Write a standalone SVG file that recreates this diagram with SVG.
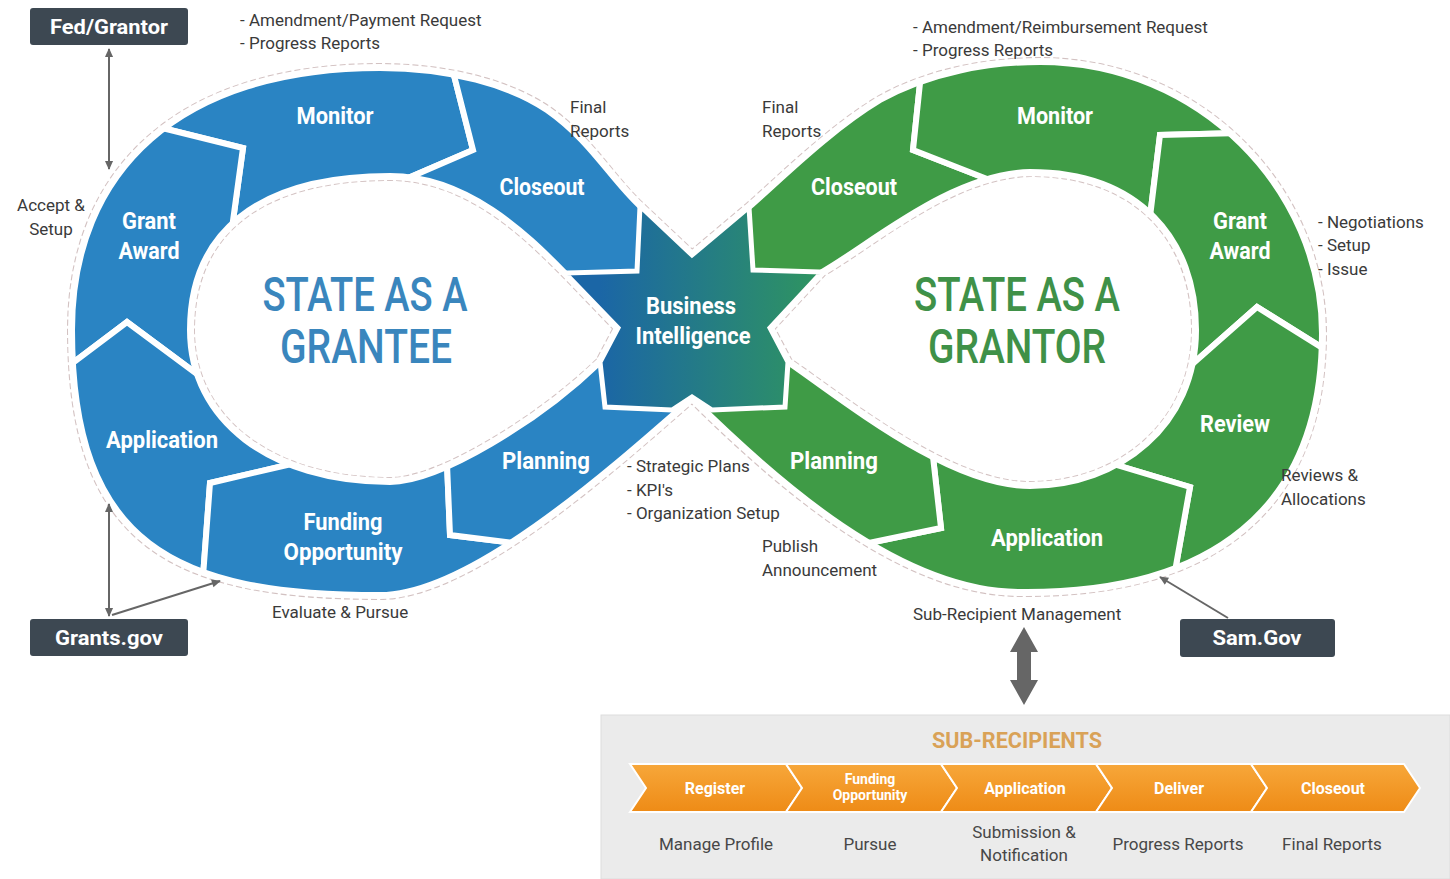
<svg xmlns="http://www.w3.org/2000/svg" width="1450" height="879" viewBox="0 0 1450 879">
<defs>
<style>
.lbl{font-family:Roboto,"Liberation Sans",Arial,sans-serif;font-weight:700;font-size:23px;fill:#ffffff;text-anchor:middle}
.ttl{font-family:Roboto,"Liberation Sans",Arial,sans-serif;font-weight:500;font-size:48px;text-anchor:middle}
.ann{font-family:Roboto,"Liberation Sans",Arial,sans-serif;font-size:17px;fill:#3a3a3a}
.annm{font-family:Roboto,"Liberation Sans",Arial,sans-serif;font-size:17px;fill:#3a3a3a;text-anchor:middle}
.boxr{fill:#3d4852}
.boxt{font-family:Roboto,"Liberation Sans",Arial,sans-serif;font-weight:700;font-size:21px;fill:#ffffff;text-anchor:middle}
.segb{fill:#2a84c3;stroke:#ffffff;stroke-width:6}
.segg{fill:#3f9b46;stroke:#ffffff;stroke-width:6}
.outl{fill:none;stroke:#d3c2c2;stroke-width:10;stroke-dasharray:6 3}
.outw{fill:none;stroke:#ffffff;stroke-width:8;stroke-linejoin:round}
.inset{fill:none;stroke:#ffffff;stroke-width:6;stroke-linejoin:round}
.conn{fill:none;stroke:#666666;stroke-width:2}
.chev{fill:url(#og);stroke:#ffffff;stroke-width:2}
.chevt{font-family:Roboto,"Liberation Sans",Arial,sans-serif;font-weight:700;font-size:16px;fill:#ffffff;text-anchor:middle}
.chevs{font-family:Roboto,"Liberation Sans",Arial,sans-serif;font-weight:700;font-size:14px;fill:#ffffff;text-anchor:middle}
.sub{font-family:Roboto,"Liberation Sans",Arial,sans-serif;font-size:17px;fill:#474747;text-anchor:middle}
</style>
<linearGradient id="bi" x1="600" y1="0" x2="822" y2="0" gradientUnits="userSpaceOnUse">
<stop offset="0" stop-color="#1b66a6"/><stop offset="1" stop-color="#2f955f"/>
</linearGradient>
<linearGradient id="og" x1="0" y1="0" x2="0" y2="1">
<stop offset="0" stop-color="#f7a73a"/><stop offset="1" stop-color="#ee8b16"/>
</linearGradient>
<clipPath id="clipL"><path clip-rule="evenodd" d="M692,255 L640,206 C610,178 590,140 547,110 C510,85 450,68 380,68 C180,68 72,170 72,330 C72,545 175,595 380,595 C470,595 610,470 692,398 Z M618,328 L565,273 C530,238 470,176 390,176 C255,176 190,235 190,330 C190,420 270,482 390,482 C440,482 540,420 600,362 Z"/></clipPath>
<clipPath id="clipR"><path clip-rule="evenodd" d="M692,255 L749,207 C780,180 830,130 880,100 C930,72 990,62 1040,62 C1200,62 1322,190 1322,333 C1322,510 1210,594 1020,592 C900,592 775,480 692,398 Z M770,328 L822,272 C870,245 950,174 1030,172 C1140,172 1196,240 1196,330 C1196,425 1120,486 1030,486 C950,486 850,405 788,362 Z"/></clipPath>
<marker id="ah" viewBox="0 0 10 10" refX="9" refY="5" markerWidth="10" markerHeight="9" markerUnits="userSpaceOnUse" orient="auto-start-reverse">
<path d="M0,0.5 L10,5 L0,9.5 Z" fill="#666666"/>
</marker>
</defs>

<rect width="1450" height="879" fill="#ffffff"/>

<!-- ring outlines -->
<g id="ring-outlines">
<path class="outl" d="M692,255 L640,206 C610,178 590,140 547,110 C510,85 450,68 380,68 C180,68 72,170 72,330 C72,545 175,595 380,595 C470,595 610,470 692,398 Z M618,328 L565,273 C530,238 470,176 390,176 C255,176 190,235 190,330 C190,420 270,482 390,482 C440,482 540,420 600,362 Z"/>
<path class="outl" d="M692,255 L749,207 C780,180 830,130 880,100 C930,72 990,62 1040,62 C1200,62 1322,190 1322,333 C1322,510 1210,594 1020,592 C900,592 775,480 692,398 Z M770,328 L822,272 C870,245 950,174 1030,172 C1140,172 1196,240 1196,330 C1196,425 1120,486 1030,486 C950,486 850,405 788,362 Z"/>
<path class="outw" d="M692,255 L640,206 C610,178 590,140 547,110 C510,85 450,68 380,68 C180,68 72,170 72,330 C72,545 175,595 380,595 C470,595 610,470 692,398 Z M618,328 L565,273 C530,238 470,176 390,176 C255,176 190,235 190,330 C190,420 270,482 390,482 C440,482 540,420 600,362 Z"/>
<path class="outw" d="M692,255 L749,207 C780,180 830,130 880,100 C930,72 990,62 1040,62 C1200,62 1322,190 1322,333 C1322,510 1210,594 1020,592 C900,592 775,480 692,398 Z M770,328 L822,272 C870,245 950,174 1030,172 C1140,172 1196,240 1196,330 C1196,425 1120,486 1030,486 C950,486 850,405 788,362 Z"/>
</g>

<!-- grantee (blue) segments -->
<g id="grantee-monitor">
<polygon class="segb" clip-path="url(#clipL)" points="390,330 232,228 243,148 130,120 300,20 445,40 473,150 385,188"/>
<text class="lbl" x="335" y="124" textLength="77" lengthAdjust="spacingAndGlyphs">Monitor</text>
</g>
<g id="grantee-closeout">
<polygon class="segb" clip-path="url(#clipL)" points="390,330 385,188 473,150 445,40 720,0 720,330"/>
<text class="lbl" x="542" y="195" textLength="85" lengthAdjust="spacingAndGlyphs">Closeout</text>
</g>
<g id="grantee-grant-award">
<polygon class="segb" clip-path="url(#clipL)" points="390,330 205,380 127,322 50,380 0,380 0,100 130,120 243,148 232,228"/>
<text class="lbl" x="149" y="229" textLength="54" lengthAdjust="spacingAndGlyphs">Grant</text>
<text class="lbl" x="149" y="259" textLength="61" lengthAdjust="spacingAndGlyphs">Award</text>
</g>
<g id="grantee-application">
<polygon class="segb" clip-path="url(#clipL)" points="390,330 300,462 210,483 202,590 202,640 0,640 0,380 50,380 127,322 205,380"/>
<text class="lbl" x="162" y="448" textLength="112" lengthAdjust="spacingAndGlyphs">Application</text>
</g>
<g id="grantee-funding-opportunity">
<polygon class="segb" clip-path="url(#clipL)" points="390,330 446,440 450,535 545,547 560,640 202,640 202,590 210,483 300,462"/>
<text class="lbl" x="343" y="530" textLength="79" lengthAdjust="spacingAndGlyphs">Funding</text>
<text class="lbl" x="343" y="560" textLength="119" lengthAdjust="spacingAndGlyphs">Opportunity</text>
</g>
<g id="grantee-planning">
<polygon class="segb" clip-path="url(#clipL)" points="390,330 720,330 720,700 560,640 545,547 450,535 446,440"/>
<text class="lbl" x="546" y="469" textLength="88" lengthAdjust="spacingAndGlyphs">Planning</text>
</g>

<!-- grantor (green) segments -->
<g id="grantor-closeout">
<polygon class="segg" clip-path="url(#clipR)" points="1010,330 670,330 670,0 924,45 913,150 1000,184"/>
<text class="lbl" x="854" y="195" textLength="86" lengthAdjust="spacingAndGlyphs">Closeout</text>
</g>
<g id="grantor-monitor">
<polygon class="segg" clip-path="url(#clipR)" points="1010,330 1000,184 913,150 924,45 1100,0 1280,132 1160,135 1149,225"/>
<text class="lbl" x="1055" y="124" textLength="76" lengthAdjust="spacingAndGlyphs">Monitor</text>
</g>
<g id="grantor-grant-award">
<polygon class="segg" clip-path="url(#clipR)" points="1010,330 1149,225 1160,135 1280,132 1450,100 1450,380 1345,362 1257,307 1180,375"/>
<text class="lbl" x="1240" y="229" textLength="54" lengthAdjust="spacingAndGlyphs">Grant</text>
<text class="lbl" x="1240" y="259" textLength="61" lengthAdjust="spacingAndGlyphs">Award</text>
</g>
<g id="grantor-review">
<polygon class="segg" clip-path="url(#clipR)" points="1010,330 1180,375 1257,307 1345,362 1450,380 1450,640 1170,640 1170,600 1177,560 1190,487 1090,457"/>
<text class="lbl" x="1235" y="432" textLength="70" lengthAdjust="spacingAndGlyphs">Review</text>
</g>
<g id="grantor-application">
<polygon class="segg" clip-path="url(#clipR)" points="1010,330 1090,457 1190,487 1177,560 1170,600 1170,640 840,640 840,549 941,528 930,430"/>
<text class="lbl" x="1047" y="546" textLength="112" lengthAdjust="spacingAndGlyphs">Application</text>
</g>
<g id="grantor-planning">
<polygon class="segg" clip-path="url(#clipR)" points="1010,330 930,430 941,528 840,549 840,640 670,640 670,330"/>
<text class="lbl" x="834" y="469" textLength="88" lengthAdjust="spacingAndGlyphs">Planning</text>
</g>

<g id="ring-insets">
<path class="inset" d="M692,255 L640,206 C610,178 590,140 547,110 C510,85 450,68 380,68 C180,68 72,170 72,330 C72,545 175,595 380,595 C470,595 610,470 692,398 Z M618,328 L565,273 C530,238 470,176 390,176 C255,176 190,235 190,330 C190,420 270,482 390,482 C440,482 540,420 600,362 Z"/>
<path class="inset" d="M692,255 L749,207 C780,180 830,130 880,100 C930,72 990,62 1040,62 C1200,62 1322,190 1322,333 C1322,510 1210,594 1020,592 C900,592 775,480 692,398 Z M770,328 L822,272 C870,245 950,174 1030,172 C1140,172 1196,240 1196,330 C1196,425 1120,486 1030,486 C950,486 850,405 788,362 Z"/>
</g>

<!-- central node -->
<g id="business-intelligence">
<polygon points="640,206 692,255 749,207 753,270 822,272 770,328 788,362 785,407 712,410 692,397 672,410 605,407 600,362 618,328 565,273 637,271" fill="url(#bi)" stroke="#ffffff" stroke-width="5"/>
<text class="lbl" x="691" y="314" textLength="90" lengthAdjust="spacingAndGlyphs">Business</text>
<text class="lbl" x="693" y="344" textLength="115" lengthAdjust="spacingAndGlyphs">Intelligence</text>
</g>

<!-- titles -->
<g id="title-grantee">
<text class="ttl" x="365" y="311" fill="#3a86bd" textLength="205" lengthAdjust="spacingAndGlyphs">STATE AS A</text>
<text class="ttl" x="366" y="363" fill="#3a86bd" textLength="172" lengthAdjust="spacingAndGlyphs">GRANTEE</text>
</g>
<g id="title-grantor">
<text class="ttl" x="1017" y="311" fill="#3f9148" textLength="206" lengthAdjust="spacingAndGlyphs">STATE AS A</text>
<text class="ttl" x="1017" y="363" fill="#3f9148" textLength="178" lengthAdjust="spacingAndGlyphs">GRANTOR</text>
</g>

<!-- external nodes -->
<g id="fed-grantor">
<rect class="boxr" x="30" y="8" width="158" height="37" rx="3"/>
<text class="boxt" x="109" y="34" textLength="118" lengthAdjust="spacingAndGlyphs">Fed/Grantor</text>
</g>
<g id="grants-gov">
<rect class="boxr" x="30" y="619" width="158" height="37" rx="3"/>
<text class="boxt" x="109" y="645" textLength="108" lengthAdjust="spacingAndGlyphs">Grants.gov</text>
</g>
<g id="sam-gov">
<rect class="boxr" x="1180" y="619" width="155" height="38" rx="3"/>
<text class="boxt" x="1257" y="645" textLength="89" lengthAdjust="spacingAndGlyphs">Sam.Gov</text>
</g>

<!-- connectors -->
<g id="connectors">
<line class="conn" x1="109" y1="49" x2="109" y2="169" marker-start="url(#ah)" marker-end="url(#ah)"/>
<line class="conn" x1="109" y1="504" x2="109" y2="616" marker-start="url(#ah)" marker-end="url(#ah)"/>
<line class="conn" x1="112" y1="615" x2="220" y2="581" marker-end="url(#ah)"/>
<line class="conn" x1="1228" y1="618" x2="1160" y2="577" marker-end="url(#ah)"/>
<polygon points="1024,627 1038,652 1031,652 1031,680 1038,680 1024,705 1010,680 1017,680 1017,652 1010,652" fill="#666666"/>
</g>

<!-- annotations -->
<g id="annotations">
<text class="ann" x="240" y="26">- Amendment/Payment Request</text>
<text class="ann" x="240" y="49">- Progress Reports</text>
<text class="ann" x="570" y="113">Final</text>
<text class="ann" x="570" y="137">Reports</text>
<text class="ann" x="762" y="113">Final</text>
<text class="ann" x="762" y="137">Reports</text>
<text class="ann" x="913" y="33">- Amendment/Reimbursement Request</text>
<text class="ann" x="913" y="56">- Progress Reports</text>
<text class="annm" x="51" y="211">Accept &amp;</text>
<text class="annm" x="51" y="235">Setup</text>
<text class="ann" x="1318" y="228">- Negotiations</text>
<text class="ann" x="1318" y="251">- Setup</text>
<text class="ann" x="1318" y="275">- Issue</text>
<text class="ann" x="1281" y="481">Reviews &amp;</text>
<text class="ann" x="1281" y="505">Allocations</text>
<text class="ann" x="627" y="472">- Strategic Plans</text>
<text class="ann" x="627" y="496">- KPI's</text>
<text class="ann" x="627" y="519">- Organization Setup</text>
<text class="ann" x="762" y="552">Publish</text>
<text class="ann" x="762" y="576">Announcement</text>
<text class="ann" x="272" y="618">Evaluate &amp; Pursue</text>
<text class="ann" x="913" y="620">Sub-Recipient Management</text>
</g>

<!-- sub-recipients -->
<g id="sub-recipients">
<rect x="601" y="715" width="849" height="164" fill="#ebebeb" stroke="#dddddd" stroke-width="1"/>
<text x="1017" y="748" font-family="Roboto,'Liberation Sans',Arial,sans-serif" font-weight="700" font-size="22" fill="#d9a257" text-anchor="middle" textLength="170" lengthAdjust="spacingAndGlyphs">SUB-RECIPIENTS</text>
</g>
<g id="sr-register">
<polygon class="chev" points="630,764 786,764 802,788 786,812 630,812 646,788"/>
<text class="chevt" x="715" y="794">Register</text>
<text class="sub" x="716" y="850">Manage Profile</text>
</g>
<g id="sr-funding-opportunity">
<polygon class="chev" points="786,764 941,764 957,788 941,812 786,812 802,788"/>
<text class="chevs" x="870" y="784">Funding</text>
<text class="chevs" x="870" y="800">Opportunity</text>
<text class="sub" x="870" y="850">Pursue</text>
</g>
<g id="sr-application">
<polygon class="chev" points="941,764 1096,764 1112,788 1096,812 941,812 957,788"/>
<text class="chevt" x="1025" y="794">Application</text>
<text class="sub" x="1024" y="838">Submission &amp;</text>
<text class="sub" x="1024" y="861">Notification</text>
</g>
<g id="sr-deliver">
<polygon class="chev" points="1096,764 1251,764 1267,788 1251,812 1096,812 1112,788"/>
<text class="chevt" x="1179" y="794">Deliver</text>
<text class="sub" x="1178" y="850">Progress Reports</text>
</g>
<g id="sr-closeout">
<polygon class="chev" points="1251,764 1404,764 1420,788 1404,812 1251,812 1267,788"/>
<text class="chevt" x="1333" y="794">Closeout</text>
<text class="sub" x="1332" y="850">Final Reports</text>
</g>
</svg>
